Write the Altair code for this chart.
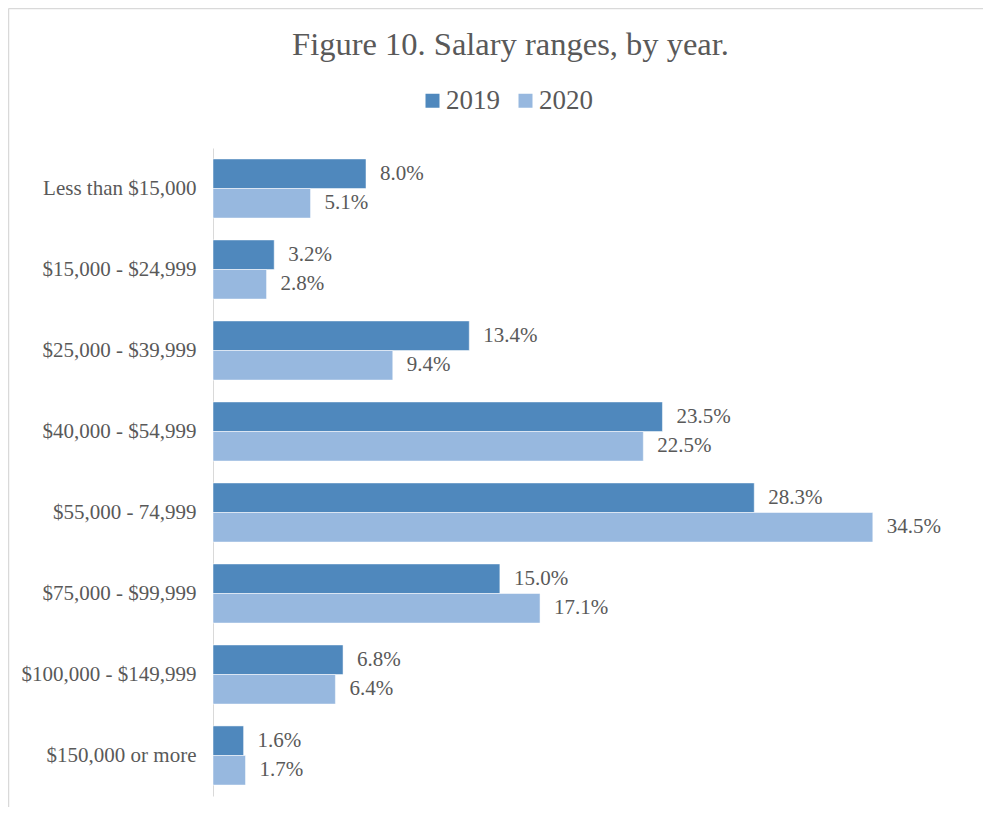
import altair as alt
import pandas as pd

categories = ["Less than $15,000", "$15,000 - $24,999", "$25,000 - $39,999",
              "$40,000 - $54,999", "$55,000 - 74,999", "$75,000 - $99,999",
              "$100,000 - $149,999", "$150,000 or more"]
years = ["2019", "2020"]
v2019 = [8.0, 3.2, 13.4, 23.5, 28.3, 15.0, 6.8, 1.6]
v2020 = [5.1, 2.8, 9.4, 22.5, 34.5, 17.1, 6.4, 1.7]

rows = []
for c, a, b in zip(categories, v2019, v2020):
    rows.append({"cat": c, "year": "2019", "value": a})
    rows.append({"cat": c, "year": "2020", "value": b})
df = pd.DataFrame(rows)

FONT = "Liberation Serif"
GREY = "#595959"
W, H = 765, 648

y_enc = alt.Y("cat:N", sort=categories, title=None,
              scale=alt.Scale(paddingInner=0.27, paddingOuter=0.135),
              axis=alt.Axis(domainColor="#d9d9d9", domainWidth=1, ticks=False, grid=False,
                            labelFont=FONT, labelFontSize=21, labelColor=GREY,
                            labelPadding=17, labelLimit=300))
x_enc = alt.X("value:Q", scale=alt.Scale(domain=[0, 40]), axis=None)
yoff = alt.YOffset("year:N", sort=years)

base = alt.Chart(df)

bars = base.mark_bar(stroke="white", strokeWidth=0.5).encode(
    y=y_enc, x=x_enc, yOffset=yoff,
    color=alt.Color("year:N", sort=years, title=None,
                    scale=alt.Scale(domain=years, range=["#4F88BD", "#97B8DF"]),
                    legend=alt.Legend(orient="none", direction="horizontal",
                                      legendX=206, legendY=-61, padding=0,
                                      symbolType="square", symbolSize=196,
                                      symbolStrokeWidth=0, labelFont=FONT,
                                      labelFontSize=27, labelColor=GREY,
                                      labelOffset=0, columnPadding=12))
)

labels = base.transform_calculate(
    label="format(datum.value, '.1f') + '%'"
).mark_text(align="left", baseline="middle", dx=14, font=FONT,
            fontSize=21, color=GREY).encode(
    y=alt.Y("cat:N", sort=categories, title=None), x=x_enc, yOffset=yoff,
    text="label:N"
)

frame_df = pd.DataFrame({"a": [0]})
frame_left = alt.Chart(frame_df).mark_rule(color="#d9d9d9", strokeWidth=1.5).encode(
    x=alt.value(-204.5), y=alt.value(-139.5), y2=alt.value(H + 11))
frame_top = alt.Chart(frame_df).mark_rule(color="#d9d9d9", strokeWidth=1.5).encode(
    y=alt.value(-139.5), x=alt.value(-204.5), x2=alt.value(W + 5))

chart = alt.layer(frame_left, frame_top, bars, labels).properties(
    width=W, height=H,
    title=alt.TitleParams("Figure 10. Salary ranges, by year.", font=FONT, fontSize=32.5,
                          fontWeight="normal", color=GREY, anchor="middle",
                          baseline="alphabetic",
                          frame="group", dx=-85, offset=-79.5),
    autosize=alt.AutoSizeParams(type="none"),
    padding={"left": 205, "top": 140, "right": 6, "bottom": 12}
).configure(font=FONT).configure_view(stroke=None)

chart.save("out.html", embed_options={"renderer": "svg", "actions": False})
